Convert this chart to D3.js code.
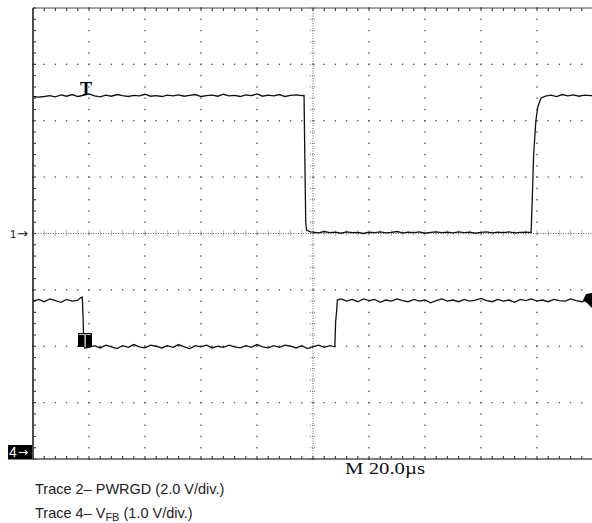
<!DOCTYPE html>
<html>
<head>
<meta charset="utf-8">
<script src="https://cdn.jsdelivr.net/npm/d3@7"></script>
<style>
  html, body { margin: 0; padding: 0; background: #fff; }
  svg { display: block; }
</style>
</head>
<body>
<svg id="scope" width="592" height="523"></svg>
<script>
// Trace 2: PWRGD, 2.0 V/div, ground reference at the centre line (marker "1")
const trace2Time = [-100,-98,-96,-94,-92,-90,-88,-86,-84,-82,-80,-78,-76,-74,-72,-70,-68,-66,-64,-62,-60,-58,-56,-54,-52,-50,-48,-46,-44,-42,-40,-38,-36,-34,-32,-30,-28,-26,-24,-22,-20,-18,-16,-14,-12,-10,-8,-6,-4,-3.2,-2.9,-2.6,-2.3,-1,
  0,2,4,6,8,10,12,14,16,18,20,22,24,26,28,30,32,34,36,38,40,42,44,46,48,50,52,54,56,58,60,62,64,66,68,70,72,74,76,77.9,
  78.3,78.8,79.6,80.3,81.4,83,85,87,89,91,93,95,97,99,100];
const trace2Volts = [4.86,4.84,4.86,4.89,4.85,4.92,4.87,4.93,4.86,4.90,4.95,4.88,4.85,4.91,4.87,4.93,4.89,4.86,4.90,4.88,4.94,4.87,4.89,4.86,4.91,4.88,4.92,4.87,4.90,4.93,4.86,4.89,4.91,4.87,4.94,4.88,4.90,4.86,4.92,4.89,4.95,4.87,4.91,4.88,4.93,4.86,4.90,4.92,4.89,4.90,2.6,0.4,0.12,0.06,
  0.05,0.02,0.07,0.03,0.05,0.01,0.06,0.03,0.04,0.00,0.05,0.03,0.06,0.02,0.04,0.07,0.02,0.05,0.03,0.06,0.01,0.04,0.06,0.03,0.05,0.02,0.06,0.03,0.05,0.01,0.04,0.06,0.02,0.05,0.03,0.06,0.02,0.04,0.05,0.04,
  1.2,2.8,4.0,4.5,4.8,4.87,4.91,4.86,4.93,4.88,4.92,4.87,4.91,4.89,4.90];

// Trace 4: VFB, 1.0 V/div, ground reference at the bottom line (marker "4")
const trace4Time = [-100,-98,-96,-94,-92,-90,-88,-86,-84,-83,-82.4,-82.1,-81.9,-81.5,
  -80,-78,-76,-74,-72,-70,-68,-66,-64,-62,-60,-58,-56,-54,-52,-50,-48,-46,-44,-42,-40,-38,-36,-34,-32,-30,-28,-26,-24,-22,-20,-18,-16,-14,-12,-10,-8,-6,-4,-2,0,2,4,6,7.8,
  8.1,8.4,8.7,10,12,14,16,18,20,22,24,26,28,30,32,34,36,38,40,42,44,46,48,50,52,54,56,58,60,62,64,66,68,70,72,74,76,78,80,82,84,86,88,90,92,94,96,98,100];
const trace4Volts = [2.80,2.83,2.79,2.84,2.81,2.78,2.83,2.80,2.82,2.86,2.87,2.5,2.05,1.97,
  1.98,2.01,1.97,2.02,1.99,1.96,2.01,1.98,2.03,1.99,1.97,2.02,2.00,1.97,2.01,1.98,2.03,1.99,1.96,2.01,1.99,2.02,1.97,2.00,1.98,2.02,1.99,1.97,2.01,1.98,2.03,1.99,1.97,2.01,1.98,2.02,2.00,1.97,2.01,1.96,1.99,2.02,1.98,2.01,1.99,
  2.45,2.60,2.82,2.84,2.80,2.83,2.79,2.84,2.81,2.83,2.78,2.82,2.80,2.84,2.81,2.79,2.83,2.80,2.82,2.77,2.81,2.84,2.80,2.82,2.79,2.83,2.80,2.82,2.85,2.81,2.79,2.83,2.80,2.82,2.78,2.83,2.81,2.84,2.80,2.82,2.79,2.83,2.81,2.80,2.84,2.81,2.79,2.82,2.80];

const timebaseLabel = "M 20.0\u00b5s";
const captionLines = [
  { lead: "Trace 2\u2013 PWRGD (2.0 V/div.)" },
  { lead: "Trace 4\u2013 V", sub: "FB", tail: " (1.0 V/div.)" }
];

(function () {
const svg = d3.select("#scope");

// Screen geometry: 10 horizontal x 8 vertical divisions
const gLeft = 33, gTop = 8, divW = 56, divH = 56.375;
const gRight = gLeft + 10 * divW, gBottom = gTop + 8 * divH;

const x = d3.scaleLinear().domain([-100, 100]).range([gLeft, gRight]);   // µs
const div = d3.scaleLinear().domain([-4, 4]).range([gBottom, gTop]);     // divisions
const y2 = d3.scaleLinear().domain([-8, 8]).range([gBottom, gTop]);      // 2 V/div, ground at centre
const y4 = d3.scaleLinear().domain([0, 8]).range([gBottom, gTop]);       // 1 V/div, ground at bottom

const grid = svg.append("g");
const dotColor = "#555";

// Graticule dots on the interior grid lines (every 1/5 division)
const xMinor = d3.range(-100, 100.01, 4);
const yMinor = d3.range(-4, 4.01, 0.2);
[-3, -2, -1, 1, 2, 3].forEach(d => {
  grid.selectAll(null).data(xMinor).enter().append("rect")
    .attr("x", t => x(t) - 0.7).attr("y", div(d) - 0.7)
    .attr("width", 1.4).attr("height", 1.4).attr("fill", dotColor);
});
[-80, -60, -40, -20, 20, 40, 60, 80].forEach(t => {
  grid.selectAll(null).data(yMinor).enter().append("rect")
    .attr("x", x(t) - 0.7).attr("y", d => div(d) - 0.7)
    .attr("width", 1.4).attr("height", 1.4).attr("fill", dotColor);
});

// Centre axes: fine dotted lines with minor tick marks
grid.append("line").attr("x1", gLeft).attr("x2", gRight).attr("y1", div(0)).attr("y2", div(0))
  .attr("stroke", "#666").attr("stroke-width", 1).attr("stroke-dasharray", "1,1.5");
grid.append("line").attr("x1", x(0)).attr("x2", x(0)).attr("y1", gTop).attr("y2", gBottom)
  .attr("stroke", "#666").attr("stroke-width", 1).attr("stroke-dasharray", "1,1.5");
grid.selectAll(null).data(xMinor).enter().append("line")
  .attr("x1", t => x(t)).attr("x2", t => x(t))
  .attr("y1", div(0) - 3).attr("y2", div(0) + 3)
  .attr("stroke", "#777").attr("stroke-width", 1).attr("stroke-dasharray", "1,1");
grid.selectAll(null).data(yMinor).enter().append("line")
  .attr("x1", x(0) - 3).attr("x2", x(0) + 3)
  .attr("y1", d => div(d)).attr("y2", d => div(d))
  .attr("stroke", "#777").attr("stroke-width", 1).attr("stroke-dasharray", "1,1");

// Frame with inward ticks
grid.append("line").attr("x1", gLeft).attr("x2", 592).attr("y1", gTop).attr("y2", gTop)
  .attr("stroke", "#444").attr("stroke-width", 1);
grid.append("line").attr("x1", 8).attr("x2", 592).attr("y1", gBottom).attr("y2", gBottom)
  .attr("stroke", "#000").attr("stroke-width", 1.2);
grid.append("line").attr("x1", gLeft).attr("x2", gLeft).attr("y1", gTop).attr("y2", gBottom)
  .attr("stroke", "#000").attr("stroke-width", 1.4);
grid.selectAll(null).data(xMinor).enter().append("line")
  .attr("x1", t => x(t)).attr("x2", t => x(t)).attr("y1", gTop).attr("y2", gTop + 3)
  .attr("stroke", "#444").attr("stroke-width", 1.2);
grid.selectAll(null).data(xMinor).enter().append("line")
  .attr("x1", t => x(t)).attr("x2", t => x(t)).attr("y1", gBottom - 3).attr("y2", gBottom)
  .attr("stroke", "#444").attr("stroke-width", 1.2);
grid.selectAll(null).data(yMinor).enter().append("line")
  .attr("x1", gLeft).attr("x2", gLeft + 3).attr("y1", d => div(d)).attr("y2", d => div(d))
  .attr("stroke", "#444").attr("stroke-width", 1.2);

// Traces
const line2 = d3.line().x((d, i) => x(trace2Time[i])).y(d => y2(d));
const line4 = d3.line().x((d, i) => x(trace4Time[i])).y(d => y4(d));
svg.append("path").attr("d", line2(trace2Volts))
  .attr("fill", "none").attr("stroke", "#111").attr("stroke-width", 1.3);
svg.append("path").attr("d", line4(trace4Volts))
  .attr("fill", "none").attr("stroke", "#111").attr("stroke-width", 1.3);

// Trigger markers
svg.append("text").attr("x", 86).attr("y", 95)
  .attr("text-anchor", "middle").attr("font-family", "Liberation Serif")
  .attr("font-weight", "bold").attr("font-size", 18).attr("fill", "#000").text("T");
svg.append("rect").attr("x", 78).attr("y", 333).attr("width", 14).attr("height", 14).attr("fill", "#000");
svg.append("rect").attr("x", 84.5).attr("y", 334).attr("width", 1.2).attr("height", 13).attr("fill", "#fff");
svg.append("rect").attr("x", 79).attr("y", 334).attr("width", 12).attr("height", 1).attr("fill", "#bbb");

// Trace 4 end marker on the right edge
const yEnd = y4(2.82);
svg.append("path")
  .attr("d", `M586,${yEnd - 6} L592,${yEnd - 7} L592,${yEnd + 8} L587,${yEnd + 3} L583,${yEnd} Z`)
  .attr("fill", "#000");

// Channel ground markers
svg.append("text").attr("x", 10).attr("y", div(0) + 4)
  .attr("font-family", "Liberation Sans").attr("font-size", 11).attr("fill", "#111").text("1");
svg.append("text").attr("x", 17).attr("y", div(0) + 4.5)
  .attr("font-family", "DejaVu Sans").attr("font-size", 13).attr("fill", "#111").text("\u2192");
svg.append("rect").attr("x", 8).attr("y", gBottom - 14).attr("width", 24).attr("height", 14).attr("fill", "#000");
svg.append("text").attr("x", 9).attr("y", gBottom - 2)
  .attr("font-family", "Liberation Sans").attr("font-size", 14).attr("fill", "#fff").text("4");
svg.append("text").attr("x", 18).attr("y", gBottom - 3)
  .attr("font-family", "DejaVu Sans").attr("font-size", 12).attr("fill", "#fff").text("\u2192");

// Timebase readout
svg.append("text").attr("x", 345).attr("y", 474)
  .attr("font-family", "Liberation Serif").attr("font-size", 16).attr("fill", "#111")
  .attr("textLength", 80).attr("lengthAdjust", "spacingAndGlyphs").text(timebaseLabel);

// Caption
const cap = svg.append("g").attr("font-family", "Liberation Sans").attr("font-size", 14.5).attr("fill", "#222");
cap.append("text").attr("x", 35).attr("y", 494).text(captionLines[0].lead);
const t4 = cap.append("text").attr("x", 35).attr("y", 518);
t4.append("tspan").text(captionLines[1].lead);
t4.append("tspan").attr("font-size", 11).attr("dy", 3).text(captionLines[1].sub);
t4.append("tspan").attr("dy", -3).text(captionLines[1].tail);
})();
</script>
</body>
</html>
